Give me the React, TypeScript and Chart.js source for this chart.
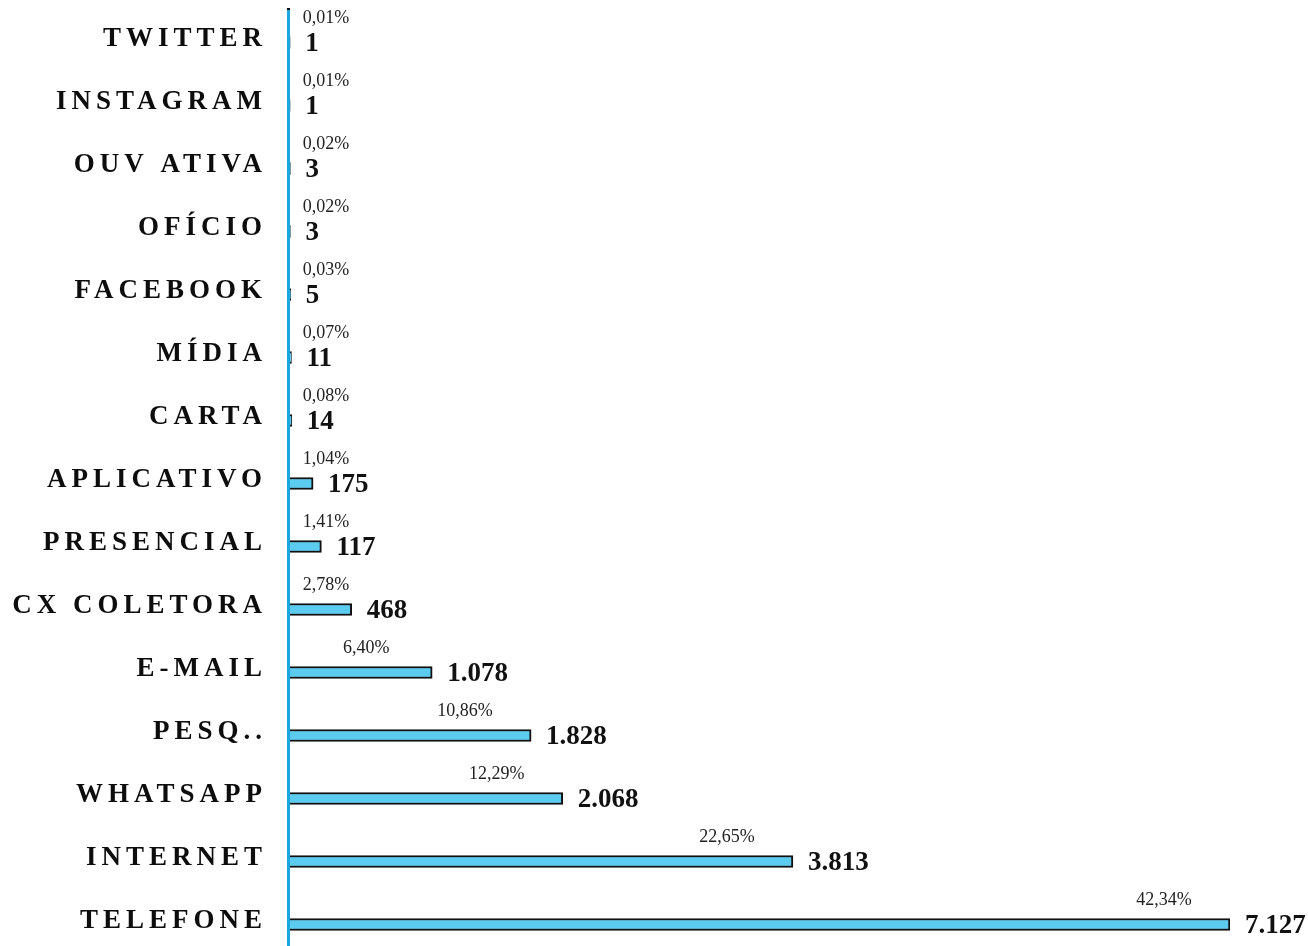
import React, { useEffect, useRef } from "react";
import { Chart, registerables } from "chart.js";

Chart.register(...registerables);

const categories = [
  "TWITTER", "INSTAGRAM", "OUV ATIVA", "OFÍCIO", "FACEBOOK", "MÍDIA", "CARTA",
  "APLICATIVO", "PRESENCIAL", "CX COLETORA", "E-MAIL", "PESQ..", "WHATSAPP",
  "INTERNET", "TELEFONE",
];
const values = [1, 1, 3, 3, 5, 11, 14, 175, 238, 468, 1078, 1828, 2068, 3813, 7127];
const valueLabels = ["1", "1", "3", "3", "5", "11", "14", "175", "117", "468", "1.078", "1.828", "2.068", "3.813", "7.127"];
const percentLabels = [
  "0,01%", "0,01%", "0,02%", "0,02%", "0,03%", "0,07%", "0,08%", "1,04%",
  "1,41%", "2,78%", "6,40%", "10,86%", "12,29%", "22,65%", "42,34%",
];

const SERIF = '"Liberation Serif", "Times New Roman", serif';

const labelPlugin = {
  id: "customLabels",
  afterDatasetsDraw(chart: any) {
    const ctx = chart.ctx as CanvasRenderingContext2D;
    const xs = chart.scales.x;
    const ys = chart.scales.y;
    const x0 = xs.getPixelForValue(0);
    const area = chart.chartArea;
    ctx.save();
    // axis line
    ctx.fillStyle = "#1BA7DE";
    ctx.fillRect(x0 - 3, area.top - 3, 3, chart.height - area.top + 3);
    ctx.fillStyle = "#111";
    ctx.fillRect(x0 - 3, area.top - 3, 3, 2);

    categories.forEach((cat, i) => {
      const y = ys.getPixelForValue(i);
      const xEnd = xs.getPixelForValue(values[i]);
      // category label
      ctx.fillStyle = "#0d0d0d";
      ctx.font = `bold 27px ${SERIF}`;
      (ctx as any).letterSpacing = "5px";
      ctx.textAlign = "right";
      ctx.textBaseline = "middle";
      ctx.fillText(cat, x0 - 23, y - 3);
      (ctx as any).letterSpacing = "0px";
      // value label
      ctx.fillStyle = "#111";
      ctx.font = `bold 27px ${SERIF}`;
      ctx.textAlign = "left";
      ctx.fillText(valueLabels[i], xEnd + 15, y + 2);
      // percent label
      ctx.font = `18px ${SERIF}`;
      ctx.fillStyle = "#222";
      ctx.textAlign = "center";
      const pc = Math.max(x0 + 36, xEnd - 66);
      ctx.fillText(percentLabels[i], pc, y - 24);
    });
    ctx.restore();
  },
};

export default function App() {
  const ref = useRef<HTMLCanvasElement>(null);
  useEffect(() => {
    if (!ref.current) return;
    const chart = new Chart(ref.current, {
      type: "bar",
      data: {
        labels: categories,
        datasets: [
          {
            data: values,
            backgroundColor: "#5BCBF0",
            borderColor: "#111",
            borderWidth: 2,
            barThickness: 12,
          },
        ],
      },
      options: {
        indexAxis: "y",
        animation: false,
        responsive: true,
        maintainAspectRatio: false,
        layout: { padding: { top: 11, left: 290, right: 78, bottom: 0 } },
        plugins: { legend: { display: false }, tooltip: { enabled: false } },
        scales: {
          x: { display: false, min: 0, max: Math.max(...values) },
          y: { display: false },
        },
      },
      plugins: [labelPlugin],
    });
    return () => chart.destroy();
  }, []);
  return (
    <div style={{ position: "fixed", left: 0, top: 0, width: 1308, height: 946, overflow: "hidden", background: "#fff" }}>
      <div style={{ position: "relative", width: 1308, height: 956 }}>
        <canvas ref={ref} />
      </div>
    </div>
  );
}
